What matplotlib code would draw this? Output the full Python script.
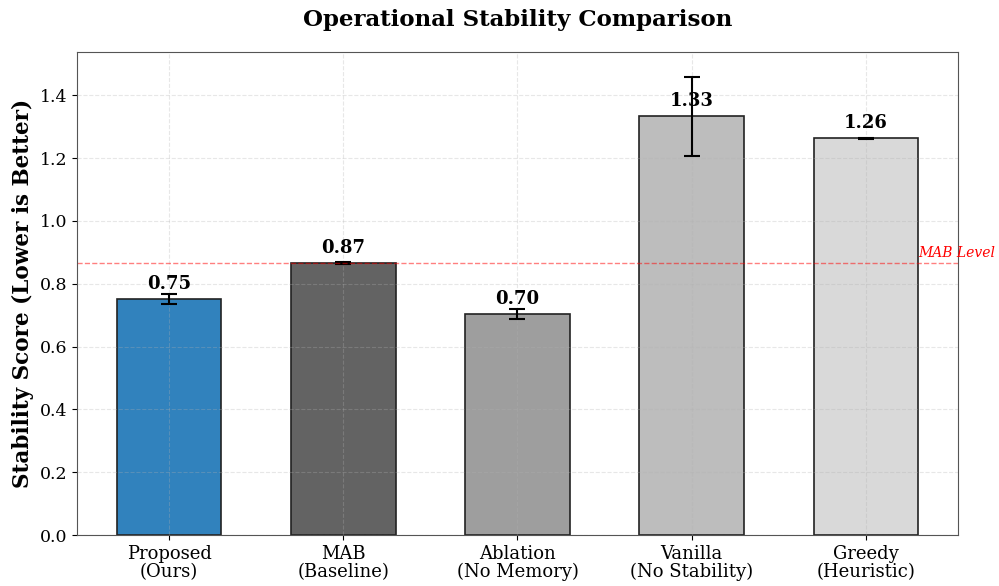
"""
  operational stability comparison bar chart
"""

import numpy as np
import matplotlib.pyplot as plt

plt.rcParams['font.family'] = 'serif'
plt.rcParams['font.serif'] = ['DejaVu Serif']

methods = ['Proposed\n(Ours)', 'MAB\n(Baseline)', 'Ablation\n(No Memory)',
           'Vanilla\n(No Stability)', 'Greedy\n(Heuristic)']
scores = [0.750, 0.866, 0.703, 1.333, 1.263]
errors = [0.016, 0.002, 0.015, 0.125, 0.002]
colors = ['#3182bd', '#636363', '#9e9e9e', '#bdbdbd', '#d9d9d9']
mab_level = 0.866

fig = plt.figure(figsize=(9.99, 5.86), dpi=100)
ax = fig.add_axes([0.077, 0.087, 0.882, 0.824])

x = np.arange(len(methods))
bars = ax.bar(x, scores, width=0.6, color=colors, edgecolor='#222222',
              linewidth=1.2, yerr=errors, capsize=6,
              error_kw={'elinewidth': 1.5, 'capthick': 1.5, 'ecolor': 'black'})

# value labels
for xi, s in zip(x, scores):
    ax.text(xi, s + 0.02, f'{s:.2f}', ha='center', va='bottom',
            fontsize=13, fontweight='bold')

# reference line
ax.axhline(mab_level, color='red', linestyle='--', linewidth=1, alpha=0.5)
ax.text(4.3, mab_level + 0.01, 'MAB Level', color='red', fontsize=10,
        style='italic', va='bottom', ha='left', clip_on=False)

ax.set_xticks(x)
ax.set_xticklabels(methods, fontsize=13, linespacing=1.0)
ax.tick_params(axis='y', labelsize=12.5)
ax.set_ylim(0, 1.537)
ax.set_ylabel('Stability Score (Lower is Better)', fontsize=15.5, fontweight='bold')
ax.set_title('Operational Stability Comparison', fontsize=16.5, fontweight='bold', pad=19)
ax.grid(True, linestyle='--', alpha=0.3)
for sp in ax.spines.values():
    sp.set_color('#555555')

plt.savefig('out.png', dpi=100)
